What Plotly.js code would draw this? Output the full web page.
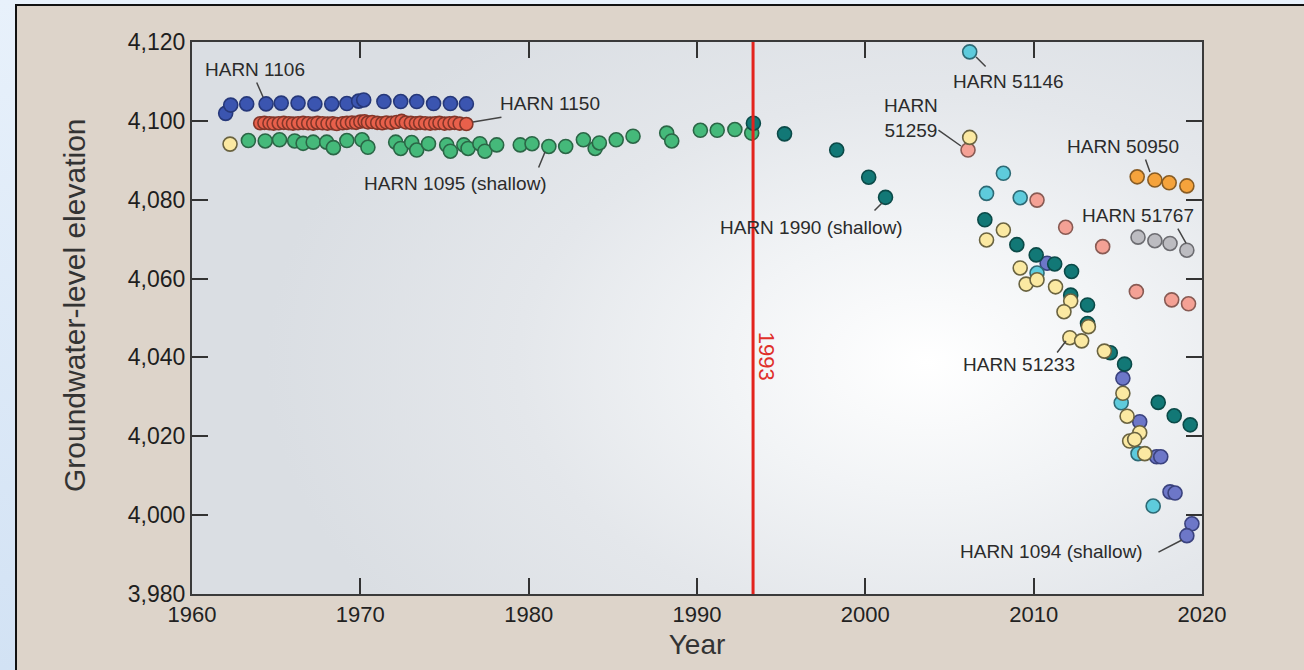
<!DOCTYPE html>
<html>
<head>
<meta charset="utf-8">
<script src="https://cdn.plot.ly/plotly-3.0.1.min.js"></script>
<style>
  html, body { margin:0; padding:0; }
  body { width:1304px; height:670px; overflow:hidden; position:relative;
         background: linear-gradient(to bottom, #e8f1fb, #d2e2f4); }
  #panel { position:absolute; left:15px; top:4px; right:0; bottom:0;
           background:#ddd4ca; border-left:2px solid #111; border-top:2px solid #111; }
  #plotbg { position:absolute; left:192px; top:42px; width:1010px; height:552px;
            background: radial-gradient(ellipse 660px 430px at 735px 320px, #ffffff 0%, #f2f4f6 30%, #e4e7eb 62%, #dadee3 100%); }
  #plot { position:absolute; left:0; top:0; width:1304px; height:670px; }
</style>
</head>
<body>
<div id="panel"></div>
<div id="plotbg"></div>
<div id="plot"></div>
<script>
// ---------------- data ----------------
const xTicks = [1960, 1970, 1980, 1990, 2000, 2010, 2020];
const yTicks = [3980, 4000, 4020, 4040, 4060, 4080, 4100, 4120];
const yTickLabels = ['3,980', '4,000', '4,020', '4,040', '4,060', '4,080', '4,100', '4,120'];
const eventYear = 1993.33;
const eventLabel = '1993';

// HARN 1106 (blue)
const harn1106Year = [1962.0,1962.3,1963.25,1964.4,1965.3,1966.3,1967.3,1968.3,1969.2,1969.9,1970.2,1971.4,1972.4,1973.35,1974.35,1975.35,1976.3];
const harn1106Elev = [4101.9,4104.0,4104.3,4104.3,4104.5,4104.5,4104.3,4104.3,4104.4,4105.0,4105.3,4104.9,4104.9,4104.9,4104.4,4104.4,4104.3];

// HARN 1150 (red)
const harn1150Year = [1964.05,1964.3,1964.6,1964.85,1965.15,1965.45,1965.75,1966.0,1966.3,1966.6,1966.9,1967.2,1967.45,1967.75,1968.05,1968.35,1968.6,1968.95,1969.2,1969.5,1969.75,1970.0,1970.25,1970.45,1970.7,1971.0,1971.3,1971.55,1971.85,1972.15,1972.45,1972.7,1973.0,1973.3,1973.55,1973.85,1974.15,1974.45,1974.7,1975.0,1975.3,1975.6,1975.9,1976.3];
const harn1150Elev = [4099.4,4099.5,4099.4,4099.3,4099.4,4099.5,4099.4,4099.3,4099.4,4099.5,4099.4,4099.3,4099.5,4099.4,4099.3,4099.4,4099.2,4099.4,4099.5,4099.6,4099.5,4099.8,4099.9,4099.6,4099.7,4099.5,4099.4,4099.6,4099.5,4099.7,4100.0,4099.6,4099.5,4099.4,4099.5,4099.4,4099.3,4099.4,4099.5,4099.3,4099.4,4099.5,4099.3,4099.2];

// HARN 1095 (shallow) (green)
const harn1095Year = [1963.35,1964.35,1965.2,1966.1,1966.6,1967.2,1968.0,1968.4,1969.2,1970.1,1970.45,1972.1,1972.4,1973.05,1973.35,1974.05,1975.13,1975.35,1976.15,1976.4,1977.1,1977.4,1978.1,1979.5,1980.2,1981.2,1982.2,1983.25,1983.95,1984.2,1985.2,1986.2,1988.2,1988.5,1990.2,1991.2,1992.25,1993.25];
const harn1095Elev = [4095.0,4094.9,4095.2,4094.9,4094.3,4094.6,4094.6,4093.2,4095.0,4095.2,4093.3,4094.6,4093.0,4094.5,4092.6,4094.2,4093.9,4092.3,4093.9,4093.0,4094.2,4092.3,4093.9,4093.9,4094.2,4093.5,4093.5,4095.2,4093.0,4094.4,4095.2,4096.1,4096.9,4094.9,4097.6,4097.6,4097.8,4096.9];

// pale yellow, early well
const yellowEarlyYear = [1962.26];
const yellowEarlyElev = [4094.1];

// HARN 1990 (shallow) (dark teal)
const harn1990Year = [1993.35,1995.2,1998.3,2000.2,2001.2,2007.1,2009.0,2010.15,2011.25,2012.25,2012.2,2013.2,2013.2,2014.55,2015.4,2017.4,2018.35,2019.3];
const harn1990Elev = [4099.4,4096.7,4092.6,4085.7,4080.6,4074.9,4068.6,4066.0,4063.7,4061.8,4055.8,4053.3,4048.6,4041.2,4038.3,4028.6,4025.2,4022.9];

// HARN 51233 (pale yellow)
const harn51233Year = [2006.2,2007.2,2008.2,2009.2,2009.55,2010.2,2011.3,2012.2,2011.8,2013.25,2012.15,2012.85,2014.2,2015.3,2015.55,2016.3,2015.7,2016.0,2016.6];
const harn51233Elev = [4095.8,4069.8,4072.3,4062.7,4058.6,4059.7,4057.9,4054.3,4051.6,4047.8,4045.0,4044.2,4041.6,4030.9,4025.1,4020.9,4018.8,4019.2,4015.6];

// HARN 51146 (cyan)
const harn51146Year = [2006.2,2007.2,2008.2,2009.2,2010.2,2015.2,2016.2,2017.1];
const harn51146Elev = [4117.5,4081.6,4086.7,4080.5,4061.4,4028.5,4015.6,4002.3];

// HARN 51259 (salmon)
const harn51259Year = [2006.1,2010.2,2011.9,2014.1,2016.1,2018.2,2019.2];
const harn51259Elev = [4092.6,4079.9,4073.0,4068.1,4056.7,4054.6,4053.6];

// HARN 50950 (orange)
const harn50950Year = [2016.15,2017.2,2018.05,2019.1];
const harn50950Elev = [4085.8,4085.0,4084.3,4083.5];

// HARN 51767 (gray)
const harn51767Year = [2016.2,2017.2,2018.1,2019.1];
const harn51767Elev = [4070.5,4069.6,4068.9,4067.2];

// HARN 1094 (shallow) (periwinkle)
const harn1094Year = [2010.8,2015.3,2016.3,2017.3,2017.55,2018.1,2018.4,2019.4,2019.1];
const harn1094Elev = [4063.9,4034.7,4023.7,4014.8,4014.8,4005.9,4005.6,3997.8,3994.8];

// ---------------- drawing ----------------
const FONT = 'Liberation Sans, Arial, sans-serif';
function pts(x, y, fill, line, size) {
  return { type:'scatter', mode:'markers', x:x, y:y, cliponaxis:false, hoverinfo:'skip',
           marker:{ size:size || 14, color:fill, line:{ color:line, width:1.6 } } };
}
const traces = [
  pts(harn1095Year, harn1095Elev, '#45b97a', '#2b6646'),
  pts(yellowEarlyYear, yellowEarlyElev, '#fbe9a2', '#6a6340'),
  pts(harn1106Year, harn1106Elev, '#3b55b0', '#26387a'),
  pts(harn1150Year, harn1150Elev, '#e8604b', '#843629', 13),
  pts(harn51259Year, harn51259Elev, '#f4a195', '#885a53'),
  pts(harn50950Year, harn50950Elev, '#f5a33c', '#885c24'),
  pts(harn51767Year, harn51767Elev, '#bcbcc1', '#6c6c71'),
  pts(harn1094Year, harn1094Elev, '#6d77c8', '#3a427e'),
  pts(harn51146Year, harn51146Elev, '#5ecbdc', '#2d6a75'),
  pts(harn1990Year, harn1990Elev, '#127876', '#0b4a48'),
  pts(harn51233Year, harn51233Elev, '#fbe9a2', '#6a6340')
];

const labelFont = { family:FONT, size:19, color:'#2b2b2b' };
function label(text, x, y, xanchor) {
  return { text:text, x:x, y:y, xref:'x', yref:'y', showarrow:false, font:labelFont,
           xanchor:xanchor || 'center', yanchor:'middle', align:'center' };
}
function leader(x, y, ax, ay) {
  return { text:'', x:x, y:y, xref:'x', yref:'y', ax:ax, ay:ay, axref:'pixel', ayref:'pixel',
           showarrow:true, arrowhead:0, arrowwidth:1.5, arrowcolor:'#444', standoff:0, startstandoff:0 };
}
const annotations = [
  label('HARN 1106', 1963.74, 4113.15),
  leader(1964.22, 4106.05, -7, -16),
  label('HARN 1150', 1981.27, 4104.28),
  leader(1976.69, 4099.71, 30, -5),
  label('HARN 1095 (shallow)', 1975.68, 4084.24),
  leader(1980.97, 4092.1, -7, 17),
  label('HARN 1990 (shallow)', 1996.83, 4072.83),
  leader(2000.99, 4079.17, -9, 9),
  label('HARN 51146', 2008.48, 4109.86),
  leader(2006.58, 4116.2, 11, 11),
  label('HARN<br>51259', 2002.71, 4100.7),
  leader(2005.68, 4093.62, -24, -17),
  label('HARN 50950', 2015.31, 4093.6),
  leader(2016.91, 4087.03, -5, -14),
  label('HARN 51767', 2016.2, 4076.1),
  leader(2019.05, 4069.0, -9, -16),
  label('HARN 51233', 2009.13, 4038.1),
  leader(2011.92, 4044.17, -10, 13),
  label('HARN 1094 (shallow)', 2011.03, 3990.66),
  leader(2018.81, 3993.7, -25, 13),
  { text:eventLabel, x:eventYear, y:4040.4, xref:'x', yref:'y', showarrow:false, textangle:90,
    xshift:13, font:{ family:FONT, size:22, color:'#e0302a' } },
  { text:'Groundwater-level elevation', xref:'paper', yref:'paper', x:-0.1158, y:0.5236,
    xanchor:'center', yanchor:'middle', showarrow:false, textangle:-90,
    font:{ family:FONT, size:30, color:'#333' } }
];

const axisCommon = {
  showline:true, linecolor:'#3a3a3a', linewidth:2, mirror:'ticks',
  ticks:'inside', ticklen:16, tickwidth:2, tickcolor:'#333',
  showgrid:false, zeroline:false, fixedrange:true
};
const layout = {
  width:1304, height:670,
  margin:{ l:192, r:102, t:42, b:76, pad:0 },
  paper_bgcolor:'rgba(0,0,0,0)', plot_bgcolor:'rgba(0,0,0,0)',
  showlegend:false, hovermode:false,
  xaxis: Object.assign({}, axisCommon, {
    range:[1960, 2020], tickvals:xTicks, ticktext:xTicks.map(String),
    tickfont:{ family:FONT, size:22, color:'#222' },
    title:{ text:'Year', font:{ family:FONT, size:28, color:'#333' }, standoff:8 }
  }),
  yaxis: Object.assign({}, axisCommon, {
    range:[3980, 4120], tickvals:yTicks, ticktext:yTickLabels,
    tickfont:{ family:FONT, size:23, color:'#1e1e1e' }
  }),
  shapes:[{ type:'line', xref:'x', yref:'paper', x0:eventYear, x1:eventYear, y0:0, y1:1,
            line:{ color:'#e3231d', width:3 }, layer:'above' }],
  annotations:annotations
};
Plotly.newPlot('plot', traces, layout, { staticPlot:true, displayModeBar:false });
</script>
</body>
</html>
